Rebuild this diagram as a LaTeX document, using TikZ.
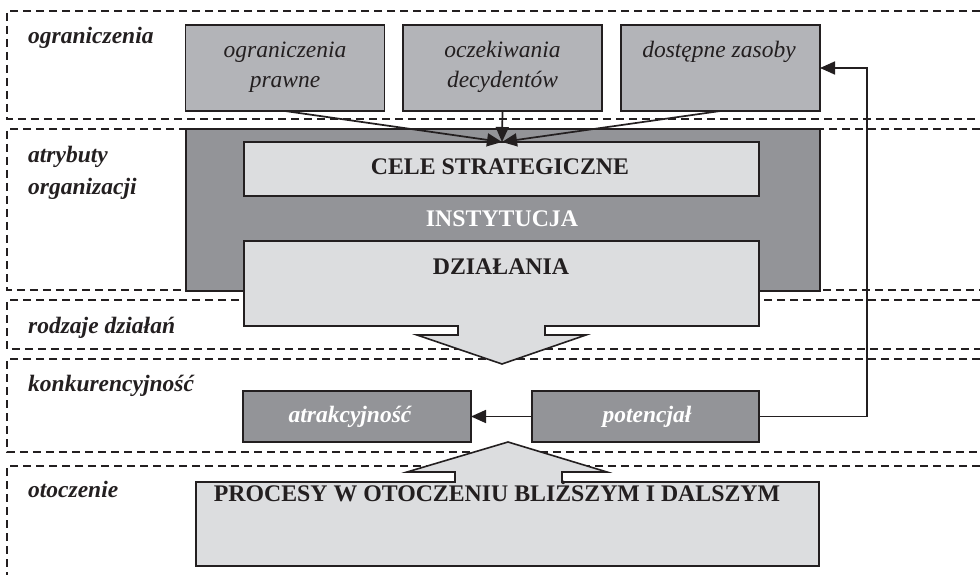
\documentclass[tikz,border=0pt]{standalone}
\usepackage{fontspec}
\setmainfont{Liberation Serif}
\usetikzlibrary{arrows.meta}
\definecolor{ink}{HTML}{231F20}
\definecolor{midgray}{HTML}{B3B4B8}
\definecolor{darkgraybox}{HTML}{939498}
\definecolor{lightgraybox}{HTML}{DCDDDF}
\begin{document}
\begin{tikzpicture}[x=1pt,y=-1pt,
  band/.style={draw=ink, line width=1.7pt, dash pattern=on 8pt off 5pt},
  boxbase/.style={draw=ink, line width=1.6pt, inner sep=0pt, outer sep=0pt},
  topbox/.style={boxbase, fill=midgray, minimum width=199pt, minimum height=86pt},
  shapeline/.style={draw=ink, line width=1.6pt, line join=miter},
  conn/.style={draw=ink, line width=1.7pt, -{Triangle[length=15pt,width=13pt]}},
  lbl/.style={font=\fontsize{23.5}{28}\selectfont\bfseries\itshape, text=ink, anchor=base west, inner sep=0pt},
  boxtxt/.style={font=\fontsize{23.5}{28}\selectfont\itshape, text=ink, anchor=base, inner sep=0pt},
  captxt/.style={font=\fontsize{23.8}{28}\selectfont\bfseries, text=ink, anchor=base, inner sep=0pt},
  whitetxt/.style={font=\fontsize{23.5}{28}\selectfont\bfseries\itshape, text=white, anchor=base, inner sep=0pt}
]
\useasboundingbox (0,0) rectangle (980,575);

% dashed bands
\draw[band] (980,11) -- (7,11) -- (7,119) -- (980,119);
\draw[band] (980,129) -- (7,129) -- (7,290) -- (980,290);
\draw[band] (980,300) -- (7,300) -- (7,349) -- (980,349);
\draw[band] (980,359) -- (7,359) -- (7,452) -- (980,452);
\draw[band] (980,466) -- (7,466) -- (7,575);

% band labels
\node[lbl] (l1) at (28,44) {ograniczenia};
\node[lbl] (l2a) at (28,163) {atrybuty};
\node[lbl] (l2b) at (28,194) {organizacji};
\node[lbl] (l3) at (28,333) {rodzaje działań};
\node[lbl] (l4) at (28,391) {konkurencyjność};
\node[lbl] (l5) at (28,497) {otoczenie};

% top boxes
\node[topbox] (b1) at (285,68) {};
\node[topbox] (b2) at (502.5,68) {};
\node[topbox] (b3) at (720.5,68) {};
\node[boxtxt] (t1a) at (285,58) {ograniczenia};
\node[boxtxt] (t1b) at (285,88) {prawne};
\node[boxtxt] (t2a) at (502.5,58) {oczekiwania};
\node[boxtxt] (t2b) at (502.5,88) {decydentów};
\node[boxtxt] (t3) at (719,58) {dostępne zasoby};

% institution
\node[boxbase, fill=darkgraybox, minimum width=634pt, minimum height=162pt] (inst) at (503,210) {};
\node[boxbase, fill=lightgraybox, minimum width=515pt, minimum height=54pt] (cele) at (501.5,169) {};
\node[captxt] (tcele) at (500,175) {CELE STRATEGICZNE};
\node[captxt, text=white] (tinst) at (502,226) {INSTYTUCJA};

% actions arrow
\draw[shapeline, fill=lightgraybox] (244,241) -- (759,241) -- (759,326) -- (545,326) -- (545,335)
  -- (586,335) -- (502,364) -- (417,335) -- (458,335) -- (458,326) -- (244,326) -- cycle;
\node[captxt] (tdz) at (501,274) {DZIAŁANIA};

% competitiveness boxes
\node[boxbase, fill=darkgraybox, minimum width=228pt, minimum height=51pt] (atr) at (357,416.5) {};
\node[boxbase, fill=darkgraybox, minimum width=227pt, minimum height=51pt] (pot) at (645.5,416.5) {};
\node[whitetxt] (tatr) at (350,422) {atrakcyjność};
\node[whitetxt] (tpot) at (647,422) {potencjał};

% environment arrow
\draw[shapeline, fill=lightgraybox] (196,482) -- (455,482) -- (455,472) -- (407,472) -- (508,442)
  -- (607,472) -- (562,472) -- (562,482) -- (819,482) -- (819,566) -- (196,566) -- cycle;
\node[captxt] (tproc) at (497,501) {PROCESY W OTOCZENIU BLIŻSZYM I DALSZYM};

% connectors
\coordinate (goal) at (502,142);
\draw[conn] (b1.south) -- (goal);
\draw[conn] (b3.south) -- (goal);
\draw[conn] (b2.south) -- (goal);
\draw[conn] (pot.west) -- (atr.east);
\coordinate (fbtop) at (867,68);
\draw[conn] (pot.east) -| (fbtop) -- (b3.east);
\end{tikzpicture}
\end{document}
